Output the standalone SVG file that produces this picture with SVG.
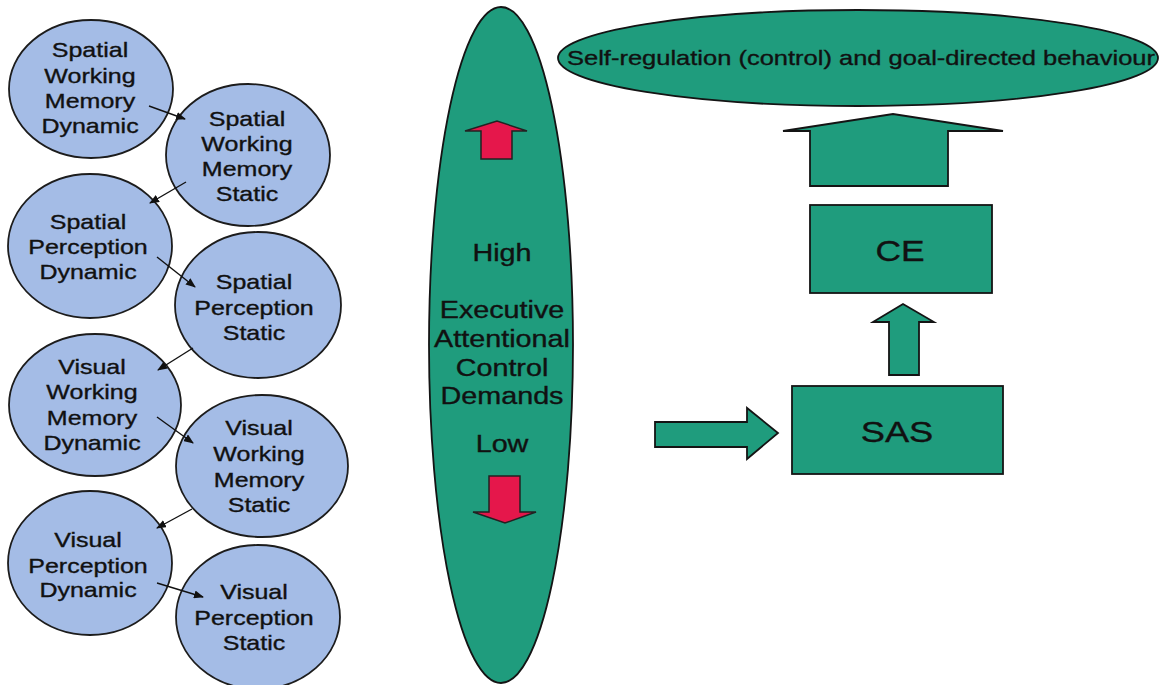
<svg xmlns="http://www.w3.org/2000/svg" width="1159" height="685" viewBox="0 0 1159 685">
  <defs>
    <style>
      .bubble { fill: #a4bce6; stroke: #1c1c1c; stroke-width: 1.8; }
      .teal { fill: #1f9c7d; stroke: #141414; stroke-width: 1.8; }
      .red { fill: #e5174b; stroke: #222; stroke-width: 1.5; }
      .link { stroke: #111; stroke-width: 1.4; fill: none; marker-end: url(#head); }
      text { font-family: "Liberation Sans", Arial, sans-serif; fill: #111; stroke: #111; stroke-width: 0.35; text-anchor: middle; }
      .small { font-size: 20.5px; }
      .mid { font-size: 23px; }
      .big { font-size: 29px; }
      .title { font-size: 21px; }
    </style>
    <marker id="head" markerUnits="userSpaceOnUse" markerWidth="10" markerHeight="8" refX="9" refY="4" orient="auto">
      <path d="M0,0 L10,4 L0,8 Z" fill="#111"/>
    </marker>
  </defs>

  <rect width="1159" height="685" fill="#ffffff"/>

  <!-- memory / perception bubbles -->
  <g id="spatial-wm-dynamic">
    <ellipse class="bubble" cx="91" cy="89" rx="82" ry="69"/>
    <text class="small" transform="translate(90 0) scale(1.22 1)"><tspan x="0" y="57">Spatial</tspan><tspan x="0" y="83">Working</tspan><tspan x="0" y="108">Memory</tspan><tspan x="0" y="133">Dynamic</tspan></text>
  </g>
  <g id="spatial-wm-static">
    <ellipse class="bubble" cx="248" cy="155" rx="82" ry="71"/>
    <text class="small" transform="translate(247 0) scale(1.22 1)"><tspan x="0" y="126">Spatial</tspan><tspan x="0" y="151">Working</tspan><tspan x="0" y="176">Memory</tspan><tspan x="0" y="201">Static</tspan></text>
  </g>
  <g id="spatial-perception-dynamic">
    <ellipse class="bubble" cx="90" cy="246" rx="82" ry="72"/>
    <text class="small" transform="translate(88 0) scale(1.22 1)"><tspan x="0" y="229">Spatial</tspan><tspan x="0" y="254">Perception</tspan><tspan x="0" y="279">Dynamic</tspan></text>
  </g>
  <g id="spatial-perception-static">
    <ellipse class="bubble" cx="258" cy="305" rx="83" ry="73"/>
    <text class="small" transform="translate(254 0) scale(1.22 1)"><tspan x="0" y="289">Spatial</tspan><tspan x="0" y="315">Perception</tspan><tspan x="0" y="340">Static</tspan></text>
  </g>
  <g id="visual-wm-dynamic">
    <ellipse class="bubble" cx="95" cy="405" rx="86" ry="71"/>
    <text class="small" transform="translate(92 0) scale(1.22 1)"><tspan x="0" y="374">Visual</tspan><tspan x="0" y="399">Working</tspan><tspan x="0" y="425">Memory</tspan><tspan x="0" y="450">Dynamic</tspan></text>
  </g>
  <g id="visual-wm-static">
    <ellipse class="bubble" cx="262" cy="466" rx="86" ry="71"/>
    <text class="small" transform="translate(259 0) scale(1.22 1)"><tspan x="0" y="435">Visual</tspan><tspan x="0" y="461">Working</tspan><tspan x="0" y="487">Memory</tspan><tspan x="0" y="512">Static</tspan></text>
  </g>
  <g id="visual-perception-dynamic">
    <ellipse class="bubble" cx="90" cy="563" rx="82" ry="72"/>
    <text class="small" transform="translate(88 0) scale(1.22 1)"><tspan x="0" y="547">Visual</tspan><tspan x="0" y="573">Perception</tspan><tspan x="0" y="597">Dynamic</tspan></text>
  </g>
  <g id="visual-perception-static">
    <ellipse class="bubble" cx="258" cy="617" rx="82" ry="72"/>
    <text class="small" transform="translate(254 0) scale(1.22 1)"><tspan x="0" y="599">Visual</tspan><tspan x="0" y="625">Perception</tspan><tspan x="0" y="650">Static</tspan></text>
  </g>

  <!-- links between bubbles -->
  <g id="connectors">
    <line class="link" x1="149" y1="106" x2="185" y2="119"/>
    <line class="link" x1="186" y1="182" x2="150" y2="203"/>
    <line class="link" x1="157" y1="257" x2="195" y2="287"/>
    <line class="link" x1="193" y1="348" x2="158" y2="370"/>
    <line class="link" x1="157" y1="417" x2="193" y2="443"/>
    <line class="link" x1="192" y1="509" x2="157" y2="528"/>
    <line class="link" x1="157" y1="583" x2="203" y2="597"/>
  </g>

  <!-- executive attentional control demands scale -->
  <g id="demands">
    <ellipse class="teal" cx="501" cy="345" rx="72" ry="338"/>
    <polygon class="red" points="465,131 497,121 527,131 512,131 512,159 481,159 481,131"/>
    <polygon class="red" points="489,476 520,476 520,512 536,512 505,523 473,512 489,512"/>
    <text class="mid" transform="translate(502 0) scale(1.25 1)"><tspan x="0" y="261">High</tspan><tspan x="0" y="318">Executive</tspan><tspan x="0" y="347">Attentional</tspan><tspan x="0" y="376">Control</tspan><tspan x="0" y="404">Demands</tspan><tspan x="0" y="452">Low</tspan></text>
  </g>

  <!-- goal -->
  <g id="self-regulation">
    <ellipse class="teal" cx="858" cy="58" rx="300" ry="48"/>
    <text class="title" x="861" y="65" textLength="588" lengthAdjust="spacingAndGlyphs">Self-regulation (control) and goal-directed behaviour</text>
  </g>

  <g id="arrow-ce-goal">
    <polygon class="teal" points="783,131 893,114 1003,131 948,131 948,186 810,186 810,131"/>
  </g>

  <g id="ce">
    <rect class="teal" x="810" y="205" width="182" height="88"/>
    <text class="big" transform="translate(900 0) scale(1.22 1)"><tspan x="0" y="261">CE</tspan></text>
  </g>

  <g id="arrow-sas-ce">
    <polygon class="teal" points="873,322 903,304 934,322 919,322 919,375 889,375 889,322"/>
  </g>

  <g id="sas">
    <rect class="teal" x="792" y="386" width="211" height="88"/>
    <text class="big" transform="translate(897 0) scale(1.25 1)"><tspan x="0" y="442">SAS</tspan></text>
  </g>

  <g id="arrow-input-sas">
    <polygon class="teal" points="655,422 747,422 747,408 778,433 747,459 747,447 655,447"/>
  </g>
</svg>
